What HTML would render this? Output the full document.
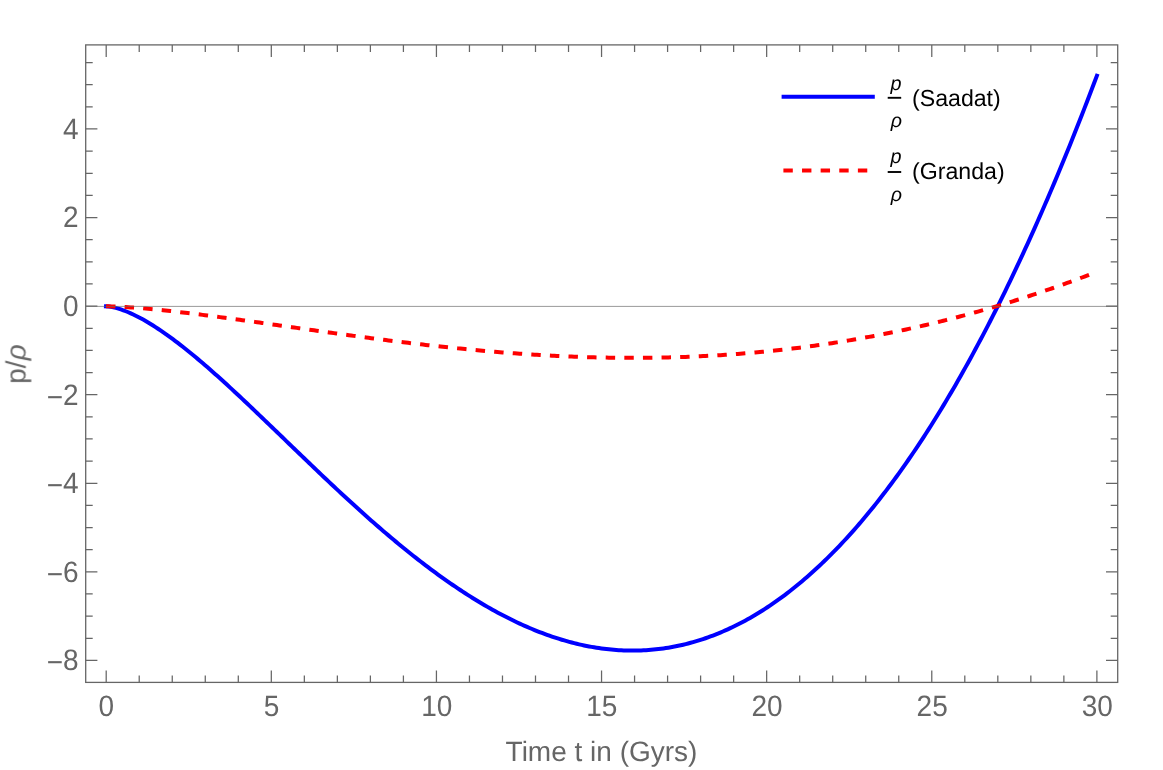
<!DOCTYPE html>
<html><head><meta charset="utf-8"><title>p/rho</title>
<style>
html,body{margin:0;padding:0;background:#fff;}
body{width:1163px;height:770px;overflow:hidden;}
svg{display:block;}
svg text{font-family:"Liberation Sans",sans-serif;text-rendering:geometricPrecision;}
</style></head><body>
<svg width="1163" height="770" viewBox="0 0 1163 770">
<rect x="0" y="0" width="1163" height="770" fill="#ffffff"/>
<path d="M106.00,306.30 L108.48,306.48 L110.95,306.84 L113.43,307.33 L115.91,307.93 L118.39,308.64 L120.86,309.43 L123.34,310.30 L125.82,311.25 L128.30,312.26 L130.77,313.34 L133.25,314.49 L135.73,315.69 L138.20,316.95 L140.68,318.26 L143.16,319.62 L145.64,321.03 L148.11,322.48 L150.59,323.98 L153.07,325.52 L155.55,327.10 L158.02,328.72 L160.50,330.38 L162.98,332.08 L165.45,333.80 L167.93,335.57 L170.41,337.36 L172.89,339.18 L175.36,341.04 L177.84,342.92 L180.32,344.83 L182.79,346.76 L185.27,348.72 L187.75,350.71 L190.23,352.72 L192.70,354.75 L195.18,356.80 L197.66,358.87 L200.14,360.97 L202.61,363.08 L205.09,365.21 L207.57,367.36 L210.04,369.52 L212.52,371.70 L215.00,373.90 L217.48,376.11 L219.95,378.33 L222.43,380.57 L224.91,382.82 L227.39,385.09 L229.86,387.36 L232.34,389.65 L234.82,391.94 L237.29,394.25 L239.77,396.56 L242.25,398.88 L244.73,401.21 L247.20,403.55 L249.68,405.90 L252.16,408.25 L254.63,410.61 L257.11,412.97 L259.59,415.34 L262.07,417.71 L264.54,420.08 L267.02,422.46 L269.50,424.85 L271.98,427.23 L274.45,429.62 L276.93,432.01 L279.41,434.40 L281.88,436.79 L284.36,439.18 L286.84,441.57 L289.32,443.96 L291.79,446.36 L294.27,448.74 L296.75,451.13 L299.23,453.52 L301.70,455.90 L304.18,458.28 L306.66,460.66 L309.13,463.04 L311.61,465.41 L314.09,467.78 L316.57,470.14 L319.04,472.50 L321.52,474.85 L324.00,477.20 L326.48,479.54 L328.95,481.88 L331.43,484.21 L333.91,486.53 L336.38,488.85 L338.86,491.16 L341.34,493.46 L343.82,495.75 L346.29,498.04 L348.77,500.31 L351.25,502.58 L353.73,504.84 L356.20,507.09 L358.68,509.33 L361.16,511.56 L363.63,513.78 L366.11,515.99 L368.59,518.19 L371.07,520.38 L373.54,522.56 L376.02,524.73 L378.50,526.88 L380.97,529.03 L383.45,531.16 L385.93,533.27 L388.41,535.38 L390.88,537.47 L393.36,539.55 L395.84,541.62 L398.32,543.67 L400.79,545.71 L403.27,547.74 L405.75,549.75 L408.22,551.75 L410.70,553.73 L413.18,555.70 L415.66,557.65 L418.13,559.59 L420.61,561.51 L423.09,563.42 L425.57,565.31 L428.04,567.18 L430.52,569.04 L433.00,570.88 L435.47,572.71 L437.95,574.51 L440.43,576.30 L442.91,578.08 L445.38,579.83 L447.86,581.57 L450.34,583.29 L452.81,585.00 L455.29,586.68 L457.77,588.35 L460.25,590.00 L462.72,591.63 L465.20,593.24 L467.68,594.83 L470.16,596.40 L472.63,597.96 L475.11,599.49 L477.59,601.00 L480.06,602.50 L482.54,603.97 L485.02,605.43 L487.50,606.86 L489.97,608.28 L492.45,609.67 L494.93,611.04 L497.41,612.39 L499.88,613.72 L502.36,615.03 L504.84,616.32 L507.31,617.58 L509.79,618.83 L512.27,620.05 L514.75,621.25 L517.22,622.43 L519.70,623.59 L522.18,624.72 L524.66,625.83 L527.13,626.92 L529.61,627.99 L532.09,629.03 L534.56,630.05 L537.04,631.05 L539.52,632.02 L542.00,632.97 L544.47,633.90 L546.95,634.80 L549.43,635.68 L551.90,636.54 L554.38,637.37 L556.86,638.18 L559.34,638.96 L561.81,639.72 L564.29,640.45 L566.77,641.16 L569.25,641.85 L571.72,642.51 L574.20,643.14 L576.68,643.75 L579.15,644.34 L581.63,644.89 L584.11,645.43 L586.59,645.94 L589.06,646.42 L591.54,646.87 L594.02,647.30 L596.50,647.71 L598.97,648.09 L601.45,648.44 L603.93,648.77 L606.40,649.07 L608.88,649.34 L611.36,649.58 L613.84,649.80 L616.31,650.00 L618.79,650.16 L621.27,650.30 L623.75,650.41 L626.22,650.50 L628.70,650.55 L631.18,650.58 L633.65,650.58 L636.13,650.56 L638.61,650.50 L641.09,650.42 L643.56,650.31 L646.04,650.18 L648.52,650.01 L651.00,649.82 L653.47,649.59 L655.95,649.34 L658.43,649.06 L660.90,648.76 L663.38,648.42 L665.86,648.06 L668.34,647.66 L670.81,647.24 L673.29,646.79 L675.77,646.30 L678.24,645.79 L680.72,645.25 L683.20,644.69 L685.68,644.09 L688.15,643.46 L690.63,642.80 L693.11,642.11 L695.59,641.40 L698.06,640.65 L700.54,639.87 L703.02,639.06 L705.49,638.23 L707.97,637.36 L710.45,636.46 L712.93,635.53 L715.40,634.57 L717.88,633.58 L720.36,632.56 L722.84,631.51 L725.31,630.43 L727.79,629.32 L730.27,628.17 L732.74,627.00 L735.22,625.79 L737.70,624.56 L740.18,623.29 L742.65,621.99 L745.13,620.66 L747.61,619.30 L750.09,617.90 L752.56,616.48 L755.04,615.02 L757.52,613.53 L759.99,612.01 L762.47,610.45 L764.95,608.87 L767.43,607.25 L769.90,605.60 L772.38,603.92 L774.86,602.20 L777.33,600.46 L779.81,598.68 L782.29,596.86 L784.77,595.02 L787.24,593.14 L789.72,591.23 L792.20,589.29 L794.68,587.31 L797.15,585.30 L799.63,583.26 L802.11,581.19 L804.58,579.08 L807.06,576.93 L809.54,574.76 L812.02,572.55 L814.49,570.31 L816.97,568.03 L819.45,565.72 L821.93,563.38 L824.40,561.00 L826.88,558.59 L829.36,556.14 L831.83,553.66 L834.31,551.15 L836.79,548.60 L839.27,546.02 L841.74,543.40 L844.22,540.75 L846.70,538.07 L849.18,535.35 L851.65,532.59 L854.13,529.80 L856.61,526.98 L859.08,524.12 L861.56,521.23 L864.04,518.30 L866.52,515.33 L868.99,512.33 L871.47,509.30 L873.95,506.23 L876.42,503.12 L878.90,499.98 L881.38,496.81 L883.86,493.59 L886.33,490.35 L888.81,487.06 L891.29,483.74 L893.77,480.39 L896.24,477.00 L898.72,473.57 L901.20,470.11 L903.67,466.61 L906.15,463.07 L908.63,459.50 L911.11,455.89 L913.58,452.25 L916.06,448.57 L918.54,444.85 L921.02,441.09 L923.49,437.30 L925.97,433.47 L928.45,429.61 L930.92,425.70 L933.40,421.76 L935.88,417.79 L938.36,413.77 L940.83,409.72 L943.31,405.63 L945.79,401.51 L948.26,397.34 L950.74,393.14 L953.22,388.90 L955.70,384.63 L958.17,380.31 L960.65,375.96 L963.13,371.57 L965.61,367.14 L968.08,362.67 L970.56,358.17 L973.04,353.62 L975.51,349.04 L977.99,344.42 L980.47,339.76 L982.95,335.06 L985.42,330.33 L987.90,325.55 L990.38,320.74 L992.86,315.89 L995.33,310.99 L997.81,306.06 L1000.29,301.09 L1002.76,296.08 L1005.24,291.03 L1007.72,285.94 L1010.20,280.82 L1012.67,275.65 L1015.15,270.44 L1017.63,265.19 L1020.11,259.90 L1022.58,254.58 L1025.06,249.21 L1027.54,243.80 L1030.01,238.35 L1032.49,232.87 L1034.97,227.34 L1037.45,221.77 L1039.92,216.16 L1042.40,210.51 L1044.88,204.82 L1047.36,199.09 L1049.83,193.31 L1052.31,187.50 L1054.79,181.64 L1057.26,175.75 L1059.74,169.81 L1062.22,163.83 L1064.70,157.81 L1067.17,151.75 L1069.65,145.64 L1072.13,139.50 L1074.60,133.31 L1077.08,127.08 L1079.56,120.81 L1082.04,114.50 L1084.51,108.14 L1086.99,101.74 L1089.47,95.30 L1091.95,88.82 L1094.42,82.30 L1096.90,75.73" fill="none" stroke="#0000ff" stroke-width="4" stroke-linecap="square" stroke-linejoin="round"/>
<path d="M106.00,306.30 L108.48,306.33 L110.95,306.39 L113.43,306.47 L115.91,306.57 L118.39,306.68 L120.86,306.80 L123.34,306.94 L125.82,307.09 L128.30,307.24 L130.77,307.41 L133.25,307.59 L135.73,307.77 L138.20,307.96 L140.68,308.16 L143.16,308.37 L145.64,308.58 L148.11,308.80 L150.59,309.03 L153.07,309.26 L155.55,309.50 L158.02,309.74 L160.50,309.99 L162.98,310.24 L165.45,310.50 L167.93,310.76 L170.41,311.03 L172.89,311.30 L175.36,311.58 L177.84,311.86 L180.32,312.15 L182.79,312.43 L185.27,312.73 L187.75,313.02 L190.23,313.32 L192.70,313.62 L195.18,313.93 L197.66,314.23 L200.14,314.54 L202.61,314.86 L205.09,315.17 L207.57,315.49 L210.04,315.81 L212.52,316.13 L215.00,316.46 L217.48,316.79 L219.95,317.12 L222.43,317.45 L224.91,317.78 L227.39,318.11 L229.86,318.45 L232.34,318.79 L234.82,319.13 L237.29,319.47 L239.77,319.81 L242.25,320.15 L244.73,320.50 L247.20,320.84 L249.68,321.19 L252.16,321.54 L254.63,321.89 L257.11,322.24 L259.59,322.59 L262.07,322.94 L264.54,323.29 L267.02,323.64 L269.50,323.99 L271.98,324.35 L274.45,324.70 L276.93,325.05 L279.41,325.41 L281.88,325.76 L284.36,326.11 L286.84,326.47 L289.32,326.82 L291.79,327.18 L294.27,327.53 L296.75,327.88 L299.23,328.24 L301.70,328.59 L304.18,328.94 L306.66,329.30 L309.13,329.65 L311.61,330.00 L314.09,330.35 L316.57,330.70 L319.04,331.05 L321.52,331.40 L324.00,331.75 L326.48,332.10 L328.95,332.44 L331.43,332.79 L333.91,333.14 L336.38,333.48 L338.86,333.82 L341.34,334.17 L343.82,334.51 L346.29,334.85 L348.77,335.19 L351.25,335.52 L353.73,335.86 L356.20,336.19 L358.68,336.53 L361.16,336.86 L363.63,337.19 L366.11,337.52 L368.59,337.85 L371.07,338.18 L373.54,338.50 L376.02,338.82 L378.50,339.15 L380.97,339.47 L383.45,339.78 L385.93,340.10 L388.41,340.42 L390.88,340.73 L393.36,341.04 L395.84,341.35 L398.32,341.66 L400.79,341.96 L403.27,342.26 L405.75,342.57 L408.22,342.86 L410.70,343.16 L413.18,343.46 L415.66,343.75 L418.13,344.04 L420.61,344.33 L423.09,344.61 L425.57,344.90 L428.04,345.18 L430.52,345.46 L433.00,345.74 L435.47,346.01 L437.95,346.28 L440.43,346.55 L442.91,346.82 L445.38,347.08 L447.86,347.34 L450.34,347.60 L452.81,347.86 L455.29,348.11 L457.77,348.37 L460.25,348.61 L462.72,348.86 L465.20,349.10 L467.68,349.34 L470.16,349.58 L472.63,349.82 L475.11,350.05 L477.59,350.28 L480.06,350.50 L482.54,350.72 L485.02,350.94 L487.50,351.16 L489.97,351.38 L492.45,351.59 L494.93,351.79 L497.41,352.00 L499.88,352.20 L502.36,352.40 L504.84,352.59 L507.31,352.79 L509.79,352.98 L512.27,353.16 L514.75,353.34 L517.22,353.52 L519.70,353.70 L522.18,353.87 L524.66,354.04 L527.13,354.21 L529.61,354.37 L532.09,354.53 L534.56,354.68 L537.04,354.84 L539.52,354.98 L542.00,355.13 L544.47,355.27 L546.95,355.41 L549.43,355.54 L551.90,355.67 L554.38,355.80 L556.86,355.92 L559.34,356.04 L561.81,356.16 L564.29,356.27 L566.77,356.38 L569.25,356.49 L571.72,356.59 L574.20,356.69 L576.68,356.78 L579.15,356.87 L581.63,356.96 L584.11,357.04 L586.59,357.12 L589.06,357.19 L591.54,357.26 L594.02,357.33 L596.50,357.39 L598.97,357.45 L601.45,357.50 L603.93,357.55 L606.40,357.60 L608.88,357.64 L611.36,357.68 L613.84,357.72 L616.31,357.75 L618.79,357.77 L621.27,357.80 L623.75,357.81 L626.22,357.83 L628.70,357.84 L631.18,357.84 L633.65,357.85 L636.13,357.84 L638.61,357.84 L641.09,357.83 L643.56,357.81 L646.04,357.79 L648.52,357.77 L651.00,357.74 L653.47,357.71 L655.95,357.67 L658.43,357.63 L660.90,357.58 L663.38,357.53 L665.86,357.48 L668.34,357.42 L670.81,357.35 L673.29,357.29 L675.77,357.21 L678.24,357.14 L680.72,357.06 L683.20,356.97 L685.68,356.88 L688.15,356.79 L690.63,356.69 L693.11,356.58 L695.59,356.48 L698.06,356.36 L700.54,356.24 L703.02,356.12 L705.49,356.00 L707.97,355.86 L710.45,355.73 L712.93,355.59 L715.40,355.44 L717.88,355.29 L720.36,355.14 L722.84,354.98 L725.31,354.81 L727.79,354.65 L730.27,354.47 L732.74,354.29 L735.22,354.11 L737.70,353.92 L740.18,353.73 L742.65,353.53 L745.13,353.33 L747.61,353.12 L750.09,352.91 L752.56,352.70 L755.04,352.47 L757.52,352.25 L759.99,352.02 L762.47,351.78 L764.95,351.54 L767.43,351.29 L769.90,351.04 L772.38,350.79 L774.86,350.53 L777.33,350.26 L779.81,349.99 L782.29,349.71 L784.77,349.43 L787.24,349.15 L789.72,348.86 L792.20,348.56 L794.68,348.26 L797.15,347.96 L799.63,347.65 L802.11,347.33 L804.58,347.01 L807.06,346.68 L809.54,346.35 L812.02,346.02 L814.49,345.68 L816.97,345.33 L819.45,344.98 L821.93,344.62 L824.40,344.26 L826.88,343.90 L829.36,343.52 L831.83,343.15 L834.31,342.77 L836.79,342.38 L839.27,341.99 L841.74,341.59 L844.22,341.19 L846.70,340.78 L849.18,340.36 L851.65,339.95 L854.13,339.52 L856.61,339.09 L859.08,338.66 L861.56,338.22 L864.04,337.78 L866.52,337.33 L868.99,336.87 L871.47,336.41 L873.95,335.95 L876.42,335.48 L878.90,335.00 L881.38,334.52 L883.86,334.03 L886.33,333.54 L888.81,333.04 L891.29,332.54 L893.77,332.03 L896.24,331.52 L898.72,331.00 L901.20,330.48 L903.67,329.95 L906.15,329.42 L908.63,328.88 L911.11,328.33 L913.58,327.78 L916.06,327.22 L918.54,326.66 L921.02,326.10 L923.49,325.52 L925.97,324.95 L928.45,324.36 L930.92,323.78 L933.40,323.18 L935.88,322.58 L938.36,321.98 L940.83,321.37 L943.31,320.75 L945.79,320.13 L948.26,319.51 L950.74,318.87 L953.22,318.24 L955.70,317.59 L958.17,316.95 L960.65,316.29 L963.13,315.63 L965.61,314.97 L968.08,314.30 L970.56,313.62 L973.04,312.94 L975.51,312.26 L977.99,311.56 L980.47,310.87 L982.95,310.16 L985.42,309.46 L987.90,308.74 L990.38,308.02 L992.86,307.30 L995.33,306.57 L997.81,305.83 L1000.29,305.09 L1002.76,304.34 L1005.24,303.59 L1007.72,302.83 L1010.20,302.07 L1012.67,301.30 L1015.15,300.52 L1017.63,299.74 L1020.11,298.96 L1022.58,298.17 L1025.06,297.37 L1027.54,296.57 L1030.01,295.76 L1032.49,294.95 L1034.97,294.13 L1037.45,293.30 L1039.92,292.47 L1042.40,291.64 L1044.88,290.79 L1047.36,289.95 L1049.83,289.10 L1052.31,288.24 L1054.79,287.37 L1057.26,286.50 L1059.74,285.63 L1062.22,284.75 L1064.70,283.86 L1067.17,282.97 L1069.65,282.07 L1072.13,281.17 L1074.60,280.26 L1077.08,279.35 L1079.56,278.43 L1082.04,277.50 L1084.51,276.57 L1086.99,275.64 L1089.47,274.69 L1091.95,273.75 L1094.42,272.79 L1096.90,271.83" fill="none" stroke="#ff0000" stroke-width="4" stroke-dasharray="9.45 9.167" stroke-linecap="butt" stroke-linejoin="round"/>
<line x1="85.7" y1="306.4" x2="1117.7" y2="306.4" stroke="#666666" stroke-opacity="0.66" stroke-width="1"/>
<rect x="85.7" y="44.9" width="1032.00" height="637.50" fill="none" stroke="#666666" stroke-width="1.3"/>
<path d="M106.20,682.4v-12M106.20,44.9v12M139.22,682.4v-7M139.22,44.9v7M172.25,682.4v-7M172.25,44.9v7M205.27,682.4v-7M205.27,44.9v7M238.29,682.4v-7M238.29,44.9v7M271.31,682.4v-12M271.31,44.9v12M304.34,682.4v-7M304.34,44.9v7M337.36,682.4v-7M337.36,44.9v7M370.38,682.4v-7M370.38,44.9v7M403.41,682.4v-7M403.41,44.9v7M436.43,682.4v-12M436.43,44.9v12M469.45,682.4v-7M469.45,44.9v7M502.48,682.4v-7M502.48,44.9v7M535.50,682.4v-7M535.50,44.9v7M568.52,682.4v-7M568.52,44.9v7M601.55,682.4v-12M601.55,44.9v12M634.57,682.4v-7M634.57,44.9v7M667.59,682.4v-7M667.59,44.9v7M700.61,682.4v-7M700.61,44.9v7M733.64,682.4v-7M733.64,44.9v7M766.66,682.4v-12M766.66,44.9v12M799.68,682.4v-7M799.68,44.9v7M832.71,682.4v-7M832.71,44.9v7M865.73,682.4v-7M865.73,44.9v7M898.75,682.4v-7M898.75,44.9v7M931.78,682.4v-12M931.78,44.9v12M964.80,682.4v-7M964.80,44.9v7M997.82,682.4v-7M997.82,44.9v7M1030.84,682.4v-7M1030.84,44.9v7M1063.87,682.4v-7M1063.87,44.9v7M1096.89,682.4v-12M1096.89,44.9v12M85.7,660.40h11.7M1117.7,660.40h-11.7M85.7,638.26h7M1117.7,638.26h-7M85.7,616.12h7M1117.7,616.12h-7M85.7,593.97h7M1117.7,593.97h-7M85.7,571.83h11.7M1117.7,571.83h-11.7M85.7,549.69h7M1117.7,549.69h-7M85.7,527.54h7M1117.7,527.54h-7M85.7,505.40h7M1117.7,505.40h-7M85.7,483.26h11.7M1117.7,483.26h-11.7M85.7,461.12h7M1117.7,461.12h-7M85.7,438.98h7M1117.7,438.98h-7M85.7,416.83h7M1117.7,416.83h-7M85.7,394.69h11.7M1117.7,394.69h-11.7M85.7,372.55h7M1117.7,372.55h-7M85.7,350.40h7M1117.7,350.40h-7M85.7,328.26h7M1117.7,328.26h-7M85.7,306.12h11.7M1117.7,306.12h-11.7M85.7,283.98h7M1117.7,283.98h-7M85.7,261.84h7M1117.7,261.84h-7M85.7,239.69h7M1117.7,239.69h-7M85.7,217.55h11.7M1117.7,217.55h-11.7M85.7,195.41h7M1117.7,195.41h-7M85.7,173.27h7M1117.7,173.27h-7M85.7,151.12h7M1117.7,151.12h-7M85.7,128.98h11.7M1117.7,128.98h-11.7M85.7,106.84h7M1117.7,106.84h-7M85.7,84.70h7M1117.7,84.70h-7M85.7,62.55h7M1117.7,62.55h-7" fill="none" stroke="#666666" stroke-width="1.25"/>
<g opacity="0.999">
<text transform="translate(106.40,715.5) scale(0.949,1)" font-size="29.5" fill="#666666" text-anchor="middle">0</text>
<text transform="translate(271.55,715.5) scale(0.949,1)" font-size="29.5" fill="#666666" text-anchor="middle">5</text>
<text transform="translate(436.70,715.5) scale(0.949,1)" font-size="29.5" fill="#666666" text-anchor="middle">10</text>
<text transform="translate(601.85,715.5) scale(0.949,1)" font-size="29.5" fill="#666666" text-anchor="middle">15</text>
<text transform="translate(767.00,715.5) scale(0.949,1)" font-size="29.5" fill="#666666" text-anchor="middle">20</text>
<text transform="translate(932.15,715.5) scale(0.949,1)" font-size="29.5" fill="#666666" text-anchor="middle">25</text>
<text transform="translate(1097.30,715.5) scale(0.949,1)" font-size="29.5" fill="#666666" text-anchor="middle">30</text>
<text transform="translate(78.5,670.30) scale(0.949,1)" font-size="29.5" fill="#666666" text-anchor="end">8</text>
<text transform="translate(63.1,672.30) scale(0.949,1)" font-size="29.5" fill="#666666" text-anchor="end">−</text>
<text transform="translate(78.5,581.73) scale(0.949,1)" font-size="29.5" fill="#666666" text-anchor="end">6</text>
<text transform="translate(63.1,583.73) scale(0.949,1)" font-size="29.5" fill="#666666" text-anchor="end">−</text>
<text transform="translate(78.5,493.16) scale(0.949,1)" font-size="29.5" fill="#666666" text-anchor="end">4</text>
<text transform="translate(63.1,495.16) scale(0.949,1)" font-size="29.5" fill="#666666" text-anchor="end">−</text>
<text transform="translate(78.5,404.59) scale(0.949,1)" font-size="29.5" fill="#666666" text-anchor="end">2</text>
<text transform="translate(63.1,406.59) scale(0.949,1)" font-size="29.5" fill="#666666" text-anchor="end">−</text>
<text transform="translate(78.5,316.02) scale(0.949,1)" font-size="29.5" fill="#666666" text-anchor="end">0</text>
<text transform="translate(78.5,227.45) scale(0.949,1)" font-size="29.5" fill="#666666" text-anchor="end">2</text>
<text transform="translate(78.5,138.88) scale(0.949,1)" font-size="29.5" fill="#666666" text-anchor="end">4</text>
<text x="601.5" y="761.0" font-size="28" fill="#666666" text-anchor="middle">Time t in (Gyrs)</text>
<text transform="translate(25.5,364.1) rotate(-90)" font-size="28" fill="#666666" text-anchor="middle">p/<tspan font-style="italic">ρ</tspan></text>
<line x1="781.6" y1="96.7" x2="874.8" y2="96.7" stroke="#0000ff" stroke-width="4"/>
<line x1="783.4" y1="170.5" x2="867.6" y2="170.5" stroke="#ff0000" stroke-width="4" stroke-dasharray="9.4 9.22"/>
<text x="895.9" y="89.6" font-size="19.8" font-style="italic" fill="#000" text-anchor="middle">p</text>
<line x1="887.7" y1="97.8" x2="901.2" y2="97.8" stroke="#000" stroke-width="1.9"/>
<text x="896.3" y="126.8" font-size="19.6" font-style="italic" fill="#000" text-anchor="middle">ρ</text>
<text x="912.0" y="105.8" font-size="23.15" fill="#000">(Saadat)</text>
<text x="895.9" y="163.3" font-size="19.8" font-style="italic" fill="#000" text-anchor="middle">p</text>
<line x1="887.7" y1="172.0" x2="901.2" y2="172.0" stroke="#000" stroke-width="1.9"/>
<text x="896.3" y="200.6" font-size="19.6" font-style="italic" fill="#000" text-anchor="middle">ρ</text>
<text x="912.0" y="179.0" font-size="23.15" fill="#000">(Granda)</text>
</g>
</svg></body></html>
